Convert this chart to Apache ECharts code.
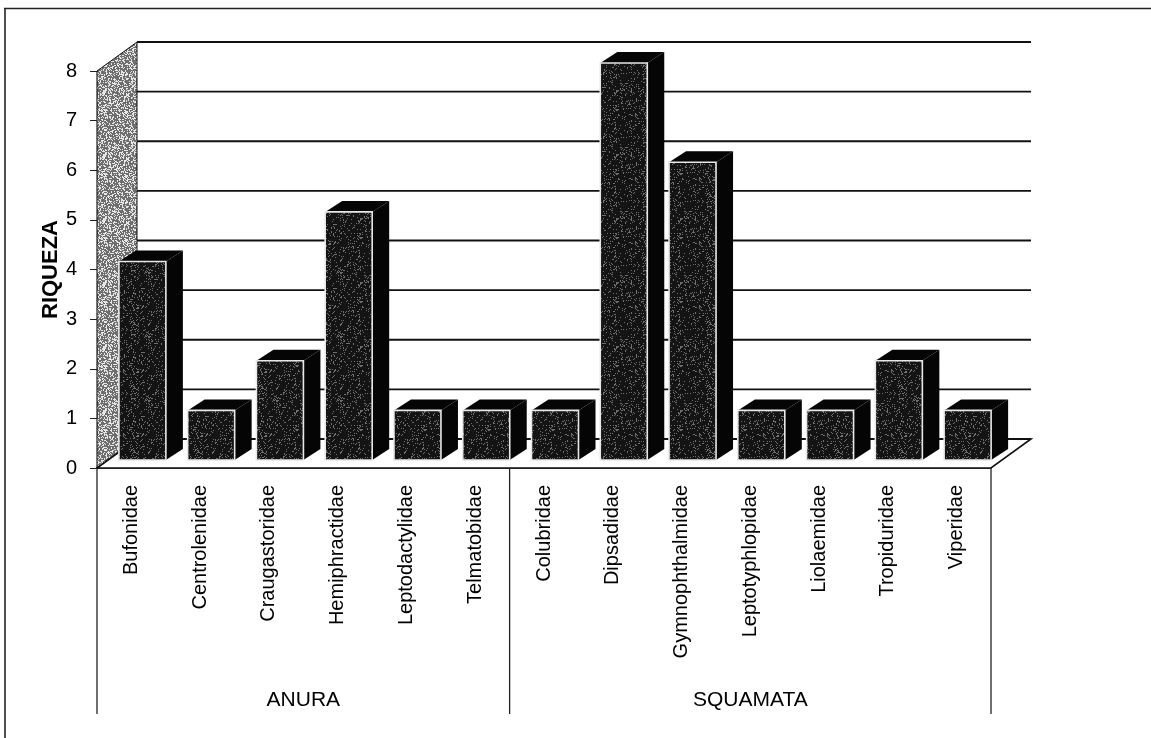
<!DOCTYPE html>
<html><head><meta charset="utf-8">
<style>html,body{margin:0;padding:0;background:#fff}#c{width:1151px;height:738px}</style>
<script src="https://cdn.jsdelivr.net/npm/echarts@6/dist/echarts.min.js"></script>
</head><body><div id="c"></div>
<script>
var categories = ['Bufonidae','Centrolenidae','Craugastoridae','Hemiphractidae','Leptodactylidae','Telmatobidae','Colubridae','Dipsadidae','Gymnophthalmidae','Leptotyphlopidae','Liolaemidae','Tropiduridae','Viperidae'];
var riqueza = [4,1,2,5,1,1,1,8,6,1,1,2,1];
var groups = ['ANURA','SQUAMATA'];
var groupSizes = [6,7];
var yTicks = [0,1,2,3,4,5,6,7,8];

var WALL_DX=40, WALL_DY=-29, BAR_W=47, BAR_SX=-11, BAR_SY=-8, BAR_DX=17, BAR_DY=-11;
var FONT='"Liberation Sans", Arial, sans-serif';

function speckle(base, dots, density, size){
  var c=document.createElement('canvas'); c.width=c.height=size;
  var x=c.getContext('2d'); x.fillStyle=base; x.fillRect(0,0,size,size);
  x.fillStyle=dots; var s=12345;
  for(var i=0;i<size;i++)for(var j=0;j<size;j++){
    s=(s*1103515245+12345)&0x7fffffff;
    if((s>>8)%100<density) x.fillRect(i,j,1,1);
  }
  return c;
}
var wallTex={image:speckle('#6e6e6e','#e6e6e6',36,64),repeat:'repeat'};
var barTex={image:speckle('#141414','#6f6f6f',13,64),repeat:'repeat'};

var chart=echarts.init(document.getElementById('c'),null,{renderer:'canvas'});

function bandW(api){return api.size([1,0])[0];}

function renderWalls(params,api){
  var ch=[];
  var o=api.coord([0,0]), bw=bandW(api);
  var x0=o[0]-bw/2, x1=x0+bw*categories.length, y0=o[1], y8=api.coord([0,8])[1];
  ch.push({type:'polygon',shape:{points:[[x0,y8],[x0+WALL_DX,y8+WALL_DY],[x0+WALL_DX,y0+WALL_DY],[x0,y0]]},style:{fill:wallTex,stroke:'#111',lineWidth:1}});
  ch.push({type:'polygon',shape:{points:[[x0,y0],[x0+WALL_DX,y0+WALL_DY],[x1+WALL_DX,y0+WALL_DY],[x1,y0]]},style:{fill:'#fff',stroke:'#111',lineWidth:1.6}});
  yTicks.forEach(function(t){
    var y=api.coord([0,t])[1]+WALL_DY;
    ch.push({type:'line',shape:{x1:x0+WALL_DX,y1:y,x2:x1+WALL_DX,y2:y},style:{stroke:'#111',lineWidth:t==8?2.2:1.8}});
  });
  return {type:'group',children:ch};
}
function renderBar(params,api){
  var i=api.value(0), v=api.value(1);
  var t=api.coord([i,v]), b=api.coord([i,0]);
  var l=t[0]-BAR_W/2-BAR_SX, r=l+BAR_W, top=t[1]+BAR_SY, bot=b[1]+BAR_SY;
  return {type:'group',children:[
    {type:'polygon',shape:{points:[[r,top],[r+BAR_DX,top+BAR_DY],[r+BAR_DX,bot+BAR_DY],[r,bot]]},style:{fill:'#050505'}},
    {type:'polygon',shape:{points:[[l,top],[l+BAR_DX,top+BAR_DY],[r+BAR_DX,top+BAR_DY],[r,top]]},style:{fill:'#050505'}},
    {type:'rect',shape:{x:l,y:top,width:BAR_W,height:bot-top},style:{fill:barTex,stroke:'#e8e8e8',lineWidth:1.6}}
  ]};
}
function renderGroups(params,api){
  var ch=[], o=api.coord([0,0]), bw=bandW(api);
  var x=o[0]-bw/2, acc=0, y0=o[1];
  function vline(px){ch.push({type:'line',shape:{x1:px,y1:y0,x2:px,y2:y0+246},style:{stroke:'#222',lineWidth:1.3}});}
  vline(x);
  groups.forEach(function(g,k){
    var a=x+acc*bw; acc+=groupSizes[k]; var e=x+acc*bw;
    vline(e);
    ch.push({type:'text',style:{text:g,x:(a+e)/2,y:y0+232,align:'center',verticalAlign:'middle',fill:'#000',font:'21px '+FONT}});
  });
  return {type:'group',children:ch};
}

chart.setOption({
  animation:false,
  backgroundColor:'#fff',
  graphic:[
    {type:'line',silent:true,shape:{x1:4,y1:8.5,x2:1151,y2:8.5},style:{stroke:'#222',lineWidth:1.4}},
    {type:'line',silent:true,shape:{x1:5,y1:8,x2:5,y2:738},style:{stroke:'#222',lineWidth:1.6}}
  ],
  grid:{left:97,right:160,top:71,bottom:270},
  xAxis:{type:'category',data:categories,axisTick:{show:false},
    axisLine:{show:true,lineStyle:{color:'#111',width:1.6}},
    axisLabel:{rotate:90,interval:0,margin:17,color:'#000',fontSize:20,fontFamily:FONT}},
  yAxis:{type:'value',min:0,max:8,interval:1,
    name:'RIQUEZA',nameLocation:'middle',nameGap:29,nameMoveOverlap:false,
    nameTextStyle:{fontSize:22,fontWeight:'bold',color:'#000',fontFamily:FONT,padding:[0,0,6,0]},
    splitLine:{show:false},
    axisLine:{show:true,lineStyle:{color:'#222',width:1.3}},
    axisTick:{show:true,length:7,lineStyle:{color:'#222'}},
    axisLabel:{margin:20,color:'#000',fontSize:20,fontFamily:FONT}},
  series:[
    {type:'custom',z:1,silent:true,clip:false,data:[[0,0]],renderItem:renderWalls,encode:{x:0,y:1}},
    {type:'custom',z:2,silent:true,clip:false,data:riqueza.map(function(v,i){return [i,v];}),renderItem:renderBar,encode:{x:0,y:1}},
    {type:'custom',z:3,silent:true,clip:false,data:[[0,0]],renderItem:renderGroups,encode:{x:0,y:1}}
  ]
});
</script></body></html>
